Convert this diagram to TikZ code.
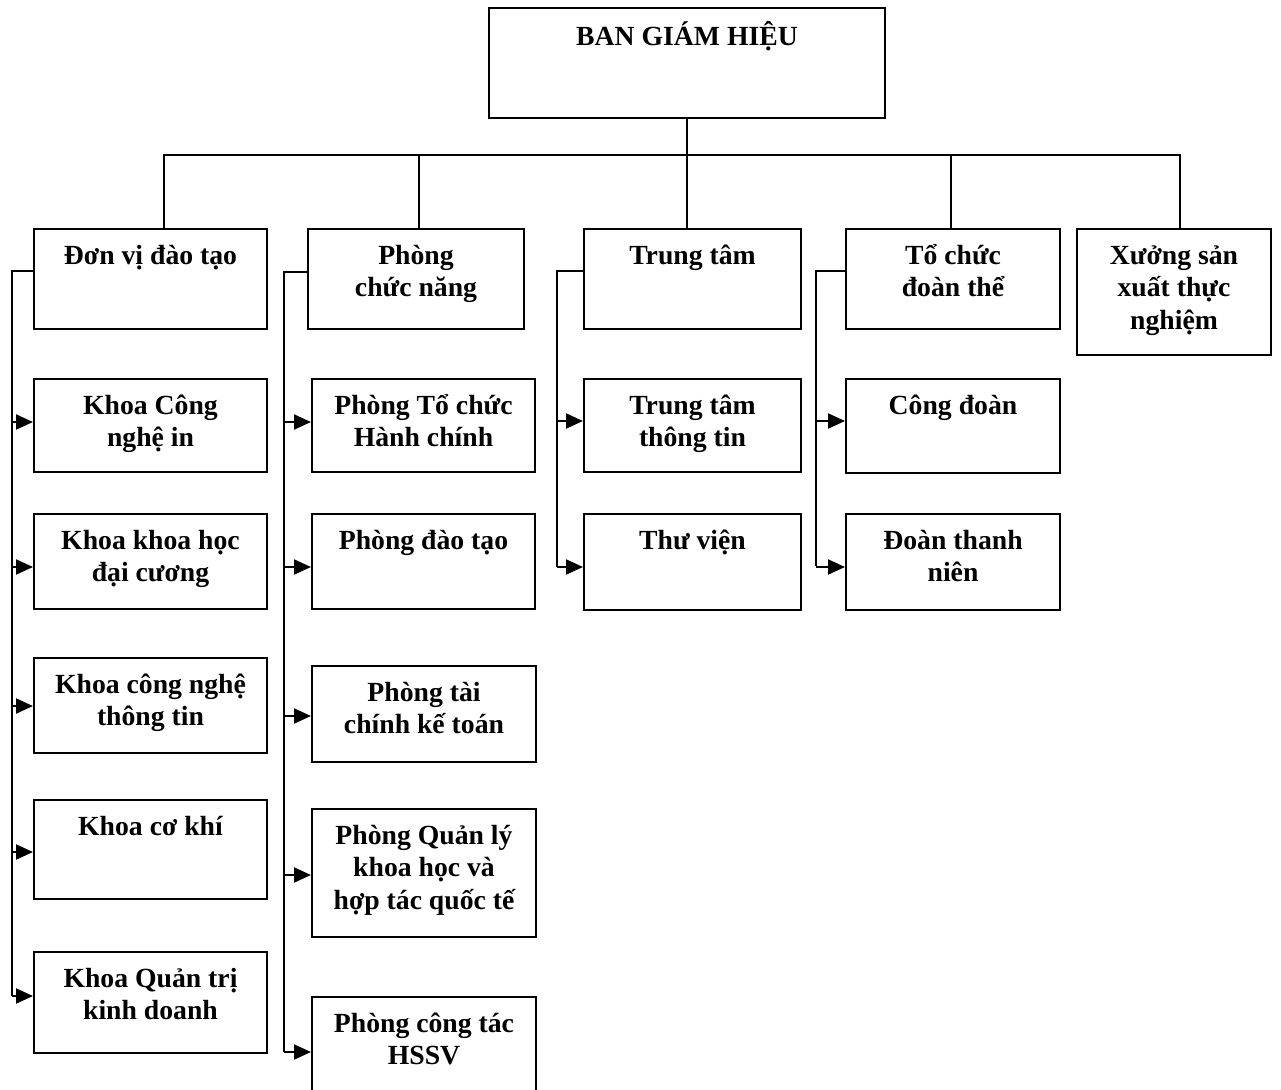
\documentclass[tikz,border=0pt]{standalone}
\usepackage{fontspec}
\setmainfont{Liberation Serif}
\usetikzlibrary{arrows.meta}
\tikzset{
  box/.style={draw, line width=2pt, inner sep=0pt, anchor=north west},
  lbl/.style={font=\fontsize{27.7}{32.7}\selectfont\bfseries, align=center, anchor=north, inner sep=0pt},
  conn/.style={line width=2pt},
  arr/.style={line width=2pt, -{Triangle[length=17pt,width=15pt]}}
}
\newcommand{\mkbox}[6]{%
  \node[box, minimum width={#4-#2}, minimum height={#5-#3}] (#1) at (#2,#3) {};
  \node[lbl] (#1t) at ([yshift=-8pt]#1.north) {\rule{0pt}{28pt}#6};
}
\begin{document}
\begin{tikzpicture}[x=1pt,y=-1pt]
\useasboundingbox (0,0) rectangle (1281,1089);
% top
\node[box, minimum width=396, minimum height=110] (bgh) at (488,7) {};
\node[lbl] (bght) at ([yshift=-10pt]bgh.north) {\rule{0pt}{28pt}BAN GIÁM HIỆU};
% level 2
\mkbox{b1}{33}{228}{266}{328}{Đơn vị đào tạo}
\mkbox{b2}{307}{228}{523}{328}{Phòng\\chức năng}
\mkbox{b3}{583}{228}{800}{328}{Trung tâm}
\mkbox{b4}{845}{228}{1059}{328}{Tổ chức\\đoàn thể}
\mkbox{b5}{1076}{228}{1270}{354}{Xưởng sản\\xuất thực\\nghiệm}
% column 1
\mkbox{k1}{33}{378}{266}{471}{Khoa Công\\nghệ in}
\mkbox{k2}{33}{513}{266}{608}{Khoa khoa học\\đại cương}
\mkbox{k3}{33}{657}{266}{752}{Khoa công nghệ\\thông tin}
\mkbox{k4}{33}{799}{266}{898}{Khoa cơ khí}
\mkbox{k5}{33}{951}{266}{1052}{Khoa Quản trị\\kinh doanh}
% column 2
\mkbox{p1}{311}{378}{534}{471}{Phòng Tổ chức\\Hành chính}
\mkbox{p2}{311}{513}{534}{608}{Phòng đào tạo}
\mkbox{p3}{311}{665}{535}{761}{Phòng tài\\chính kế toán}
\mkbox{p4}{311}{808}{535}{936}{Phòng Quản lý\\khoa học và\\hợp tác quốc tế}
\mkbox{p5}{311}{996}{535}{1100}{Phòng công tác\\HSSV}
% column 3
\mkbox{t1}{583}{378}{800}{471}{Trung tâm\\thông tin}
\mkbox{t2}{583}{513}{800}{609}{Thư viện}
% column 4
\mkbox{c1}{845}{378}{1059}{472}{Công đoàn}
\mkbox{c2}{845}{513}{1059}{609}{Đoàn thanh\\niên}
% top tree
\coordinate (hl) at (164,155);
\coordinate (hr) at (1180,155);
\draw[conn] (bgh.south) -- (bgh.south |- hl);
\draw[conn] (b1.north -| hl) -- (hl) -- (hr) -- (b5.north -| hr);
\draw[conn] (b2.north -| 419,0) -- (419,155);
\draw[conn] (b3.north -| bgh.south) -- (bgh.south |- hl);
\draw[conn] (b4.north -| 951,0) -- (951,155);
% column 1 trunk
\coordinate (j1) at (12,271);
\coordinate (j1e) at (12,996);
\draw[conn] (b1.west |- j1) -- (j1) -- (j1e);
\foreach \n/\yy in {k1/422,k2/567,k3/706,k4/852,k5/996}
  \draw[arr] (12,\yy) -- (\n.west |- 0,\yy);
% column 2 trunk
\coordinate (j2) at (284,272);
\coordinate (j2e) at (284,1052);
\draw[conn] (b2.west |- j2) -- (j2) -- (j2e);
\foreach \n/\yy in {p1/422,p2/567,p3/716,p4/875,p5/1052}
  \draw[arr] (284,\yy) -- (\n.west |- 0,\yy);
% column 3 trunk
\coordinate (j3) at (557,271);
\coordinate (j3e) at (557,567);
\draw[conn] (b3.west |- j3) -- (j3) -- (j3e);
\foreach \n/\yy in {t1/421,t2/567}
  \draw[arr] (557,\yy) -- (\n.west |- 0,\yy);
% column 4 trunk
\coordinate (j4) at (816,271);
\coordinate (j4e) at (816,566);
\draw[conn] (b4.west |- j4) -- (j4) -- (j4e);
\foreach \n/\yy in {c1/421,c2/567}
  \draw[arr] (816,\yy) -- (\n.west |- 0,\yy);
\end{tikzpicture}
\end{document}
